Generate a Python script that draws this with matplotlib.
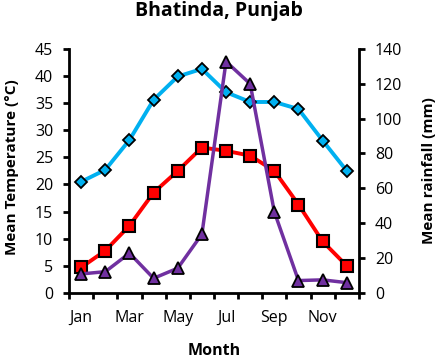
import matplotlib
matplotlib.use("Agg")
import matplotlib.pyplot as plt

months = ["Jan", "Feb", "Mar", "Apr", "May", "Jun", "Jul", "Aug", "Sep", "Oct", "Nov", "Dec"]
max_temp = [20.5, 22.7, 28.2, 35.6, 39.9, 41.3, 37.0, 35.2, 35.2, 33.9, 28.1, 22.5]
min_temp = [4.7, 7.8, 12.4, 18.5, 22.5, 26.8, 26.2, 25.3, 22.5, 16.3, 9.5, 5.0]
rainfall = [10.9, 12.2, 22.8, 8.4, 14.2, 33.7, 132.7, 119.9, 46.5, 7.1, 7.5, 5.9]

plt.rcParams['font.family'] = ['Open Sans', 'DejaVu Sans']

fig = plt.figure(figsize=(4.43, 3.59), dpi=100)
ax = fig.add_axes([0.156, 0.184, 0.654, 0.680])
ax2 = ax.twinx()

x = list(range(1, 13))
ax.plot(x, max_temp, color='#00B0F0', lw=2.8, marker='D', ms=6.5,
        mfc='#00B0F0', mec='black', mew=1.3, zorder=3)
ax.plot(x, min_temp, color='#FF0000', lw=2.8, marker='s', ms=8,
        mfc='#FF0000', mec='black', mew=1.5, zorder=3)
ax2.plot(x, rainfall, color='#7030A0', lw=2.5, marker='^', ms=8,
         mfc='#7030A0', mec='black', mew=1.3, zorder=3)

ax.set_xlim(0.5, 12.5)
ax.set_ylim(0, 45)
ax.set_yticks(range(0, 46, 5))
ax2.set_ylim(0, 140)
ax2.set_yticks(range(0, 141, 20))

ax.set_xticks([i + 0.5 for i in range(0, 13)], minor=False)
ax.set_xticklabels([])
ax.set_xticks(x[::2], minor=True)
ax.set_xticklabels(months[::2], minor=True)
ax.tick_params(axis='x', which='major', length=4.5, width=2, direction='out')
ax.tick_params(axis='x', which='minor', length=0, labelsize=11.5, pad=12)

for a in (ax, ax2):
    a.spines['top'].set_visible(False)
    for s in ('left', 'right', 'bottom'):
        a.spines[s].set_linewidth(2)
ax.spines['right'].set_visible(False)
ax2.spines['left'].set_visible(False)
ax2.spines['bottom'].set_visible(False)

ax.tick_params(axis='y', length=4.5, width=2, labelsize=11.5, pad=7)
ax2.tick_params(axis='y', length=4.5, width=2, labelsize=11.5, pad=7)

fig.text(0.027, 0.535, 'Mean Temperature (°C)', fontsize=11, fontweight='bold',
         rotation=90, ha='center', va='center')
fig.text(0.968, 0.526, 'Mean rainfall (mm)', fontsize=11, fontweight='bold',
         rotation=90, ha='center', va='center')
fig.text(0.484, 0.022, 'Month', fontsize=11.5, fontweight='bold',
         ha='center', va='center')
fig.text(0.495, 0.970, 'Bhatinda, Punjab', fontsize=14, fontweight='bold',
         ha='center', va='center')

fig.savefig('out.png', dpi=100)
